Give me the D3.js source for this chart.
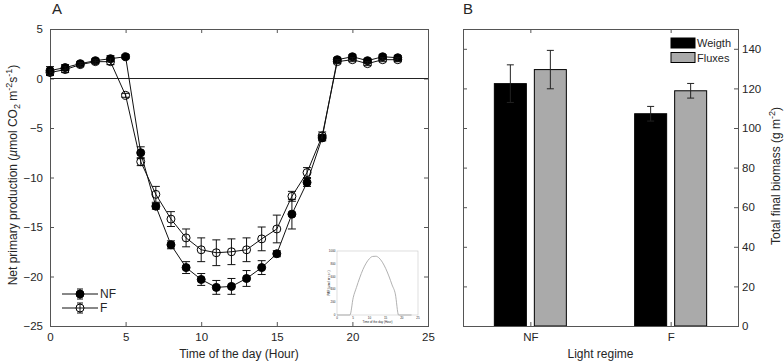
<!DOCTYPE html>
<html lang="en">
<head>
<meta charset="UTF-8">
<title>NPP and biomass</title>
<script src="https://cdn.jsdelivr.net/npm/d3@7"></script>
<style>
  body { margin: 0; background: #fff; }
  text { font-family: "Liberation Sans", Arial, sans-serif; fill: #262626; }
</style>
</head>
<body>
<script>
// panel A: net primary production over the day
const hours = [0, 1, 2, 3, 4, 5, 6, 7, 8, 9, 10, 11, 12, 13, 14, 15, 16, 17, 18, 19, 20, 21, 22, 23]
const nfMean = [0.8, 1.1, 1.5, 1.8, 2.0, 2.2, -7.5, -12.9, -16.8, -19.1, -20.3, -21.1, -21.0, -20.2, -19.1, -17.7, -13.7, -10.5, -6.0, 1.9, 2.2, 1.8, 2.2, 2.1]
const nfErr = [0.4, 0.3, 0.2, 0.2, 0.3, 0.2, 0.6, 0.3, 0.4, 0.6, 0.6, 0.7, 0.8, 0.8, 0.7, 0.3, 1.5, 0.4, 0.3, 0.2, 0.2, 0.2, 0.2, 0.2]
const fMean = [0.6, 0.9, 1.4, 1.7, 1.7, -1.7, -8.4, -11.7, -14.2, -16.1, -17.3, -17.6, -17.5, -17.3, -16.2, -15.2, -11.9, -9.5, -5.8, 1.7, 1.9, 1.5, 1.9, 1.9]
const fErr = [0.3, 0.3, 0.2, 0.2, 0.3, 0.2, 0.4, 0.8, 0.75, 0.9, 1.2, 1.3, 1.3, 1.2, 1.2, 1.4, 0.5, 0.5, 0.4, 0.2, 0.2, 0.2, 0.2, 0.2]
const xTicksA = [0, 5, 10, 15, 20, 25]
const yTicksA = [5, 0, -5, -10, -15, -20, -25]

// inset: PAR curve
const parHours = [0, 4, 5, 6, 7, 8, 9, 10, 11, 12, 13, 14, 15, 16, 17, 18, 19, 23]
const parVals = [0, 0, 270, 430, 580, 710, 810, 880, 915, 918, 890, 825, 730, 610, 470, 330, 0, 0]
const parXTicks = [0, 5, 10, 15, 20, 25]
const parYTicks = [0, 200, 400, 600, 800, 1000]

// panel B: final biomass
const regimes = ['NF', 'F']
const methods = ['Weigth', 'Fluxes']
const weigth = [122.4, 107.2]
const weigthErr = [9.5, 3.7]
const fluxes = [129.5, 118.8]
const fluxesErr = [9.7, 3.7]
const yTicksB = [0, 20, 40, 60, 80, 100, 120, 140]

const [width, height] = [784, 364]
const axisColor = '#555'
const svg = d3.select('body').append('svg')
    .attr('width', width)
    .attr('height', height)

const styleAxis = g => {
    g.select('.domain').remove()
    g.selectAll('line').attr('stroke', axisColor)
    g.selectAll('text').attr('font-size', 11.5).attr('fill', '#262626')
        .attr('font-family', '"Liberation Sans", Arial, sans-serif')
}

// ---------- panel A ----------
const xA = d3.scaleLinear([0, 25], [50, 428])
const yA = d3.scaleLinear([-25, 5], [326, 29])
const gA = svg.append('g')

gA.append('g').attr('transform', `translate(0,${yA(-25)})`)
    .call(d3.axisBottom(xA).tickValues(xTicksA).tickSize(-4).tickPadding(7).tickFormat(d3.format('d')))
    .call(styleAxis)
gA.append('g').attr('transform', `translate(0,${yA(5)})`)
    .call(d3.axisTop(xA).tickValues(xTicksA).tickSize(-4).tickFormat(''))
    .call(styleAxis)
gA.append('g').attr('transform', `translate(${xA(0)},0)`)
    .call(d3.axisLeft(yA).tickValues(yTicksA).tickSize(-4).tickPadding(7).tickFormat(d3.format('d')))
    .call(styleAxis)
gA.append('g').attr('transform', `translate(${xA(25)},0)`)
    .call(d3.axisRight(yA).tickValues(yTicksA).tickSize(-4).tickFormat(''))
    .call(styleAxis)
gA.append('rect')
    .attr('x', xA(0)).attr('y', yA(5))
    .attr('width', xA(25) - xA(0)).attr('height', yA(-25) - yA(5))
    .attr('fill', 'none').attr('stroke', axisColor)
    .attr('shape-rendering', 'crispEdges')
gA.append('line')
    .attr('x1', xA(0)).attr('x2', xA(25))
    .attr('y1', yA(0)).attr('y2', yA(0))
    .attr('stroke', '#222').attr('shape-rendering', 'crispEdges')

// inset
const ix = d3.scaleLinear([0, 25], [337, 418])
const iy = d3.scaleLinear([0, 1000], [315, 251])
const gI = svg.append('g')
gI.append('rect')
    .attr('x', ix(0)).attr('y', iy(1000))
    .attr('width', ix(25) - ix(0)).attr('height', iy(0) - iy(1000))
    .attr('fill', 'none').attr('stroke', '#c8c8c8').attr('stroke-width', 0.6)
gI.selectAll('text.ixt').data(parXTicks).enter().append('text')
    .attr('x', d => ix(d)).attr('y', iy(0) + 4)
    .attr('text-anchor', 'middle').attr('font-size', 3).attr('fill', '#999')
    .text(d => d)
gI.selectAll('text.iyt').data(parYTicks).enter().append('text')
    .attr('x', ix(0) - 1.5).attr('y', d => iy(d) + 1)
    .attr('text-anchor', 'end').attr('font-size', 3).attr('fill', '#999')
    .text(d => d)
gI.append('text')
    .attr('x', (ix(0) + ix(25)) / 2).attr('y', iy(0) + 8)
    .attr('text-anchor', 'middle').attr('font-size', 3).attr('fill', '#999')
    .text('Time of the day (Hour)')
gI.append('text')
    .attr('transform', `translate(${ix(0) - 7},${(iy(0) + iy(1000)) / 2}) rotate(-90)`)
    .attr('text-anchor', 'middle').attr('font-size', 3).attr('fill', '#999')
    .text('PAR (µmol m⁻² s⁻¹)')
gI.append('path')
    .datum(parHours.map((h, i) => [h, parVals[i]]))
    .attr('fill', 'none').attr('stroke', '#a8a8a8').attr('stroke-width', 0.9)
    .attr('d', d3.line().x(d => ix(d[0])).y(d => iy(d[1])).curve(d3.curveMonotoneX))

// series
const series = [
    {name: 'NF', mean: nfMean, err: nfErr, fill: '#000'},
    {name: 'F', mean: fMean, err: fErr, fill: 'none'}
]
const line = d3.line().x(d => xA(d[0])).y(d => yA(d[1]))
series.forEach(s => {
    const pts = hours.map((h, i) => [h, s.mean[i], s.err[i]])
    const g = gA.append('g')
    g.append('path').datum(pts)
        .attr('fill', 'none').attr('stroke', '#111').attr('stroke-width', 1)
        .attr('d', line)
    const eb = g.selectAll('g.eb').data(pts).enter().append('g')
    eb.append('line')
        .attr('x1', d => xA(d[0])).attr('x2', d => xA(d[0]))
        .attr('y1', d => yA(d[1] - d[2])).attr('y2', d => yA(d[1] + d[2]))
        .attr('stroke', '#111')
    eb.selectAll('line.cap').data(d => [[d[0], d[1] - d[2]], [d[0], d[1] + d[2]]]).enter()
        .append('line')
        .attr('x1', d => xA(d[0]) - 4).attr('x2', d => xA(d[0]) + 4)
        .attr('y1', d => yA(d[1])).attr('y2', d => yA(d[1]))
        .attr('stroke', '#111')
    g.selectAll('circle').data(pts).enter().append('circle')
        .attr('cx', d => xA(d[0])).attr('cy', d => yA(d[1]))
        .attr('r', 4)
        .attr('fill', s.fill).attr('stroke', '#000').attr('stroke-width', 1)
})

// legend A
const legA = gA.append('g')
series.forEach((s, i) => {
    const y = 294 + i * 14
    legA.append('line').attr('x1', 62).attr('x2', 98).attr('y1', y).attr('y2', y).attr('stroke', '#111')
    legA.append('line').attr('x1', 80).attr('x2', 80).attr('y1', y - 5).attr('y2', y + 5).attr('stroke', '#111')
    legA.append('line').attr('x1', 77).attr('x2', 83).attr('y1', y - 5).attr('y2', y - 5).attr('stroke', '#111')
    legA.append('line').attr('x1', 77).attr('x2', 83).attr('y1', y + 5).attr('y2', y + 5).attr('stroke', '#111')
    legA.append('circle').attr('cx', 80).attr('cy', y).attr('r', 4)
        .attr('fill', s.fill).attr('stroke', '#000')
    legA.append('text').attr('x', 100).attr('y', y + 4).attr('font-size', 12).text(s.name)
})

// labels A
gA.append('text').attr('x', 52).attr('y', 14).attr('font-size', 15).text('A')
gA.append('text')
    .attr('x', (xA(0) + xA(25)) / 2).attr('y', 358)
    .attr('text-anchor', 'middle').attr('font-size', 12)
    .text('Time of the day (Hour)')
const ylA = gA.append('text')
    .attr('transform', 'translate(17,175) rotate(-90)')
    .attr('text-anchor', 'middle').attr('font-size', 12)
ylA.append('tspan').text('Net primary production (')
ylA.append('tspan').attr('font-style', 'italic').text('µ')
ylA.append('tspan').text('mol CO')
ylA.append('tspan').attr('font-size', 9).attr('dy', 3).text('2')
ylA.append('tspan').attr('dy', -3).text(' m')
ylA.append('tspan').attr('font-size', 9).attr('dy', -5).text('-2')
ylA.append('tspan').attr('dy', 5).text('s')
ylA.append('tspan').attr('font-size', 9).attr('dy', -5).text('-1')
ylA.append('tspan').attr('dy', 5).text(')')

// ---------- panel B ----------
const xB = d3.scaleLinear([0.52, 2.48], [463, 738])
const yB = d3.scaleLinear([0, 150], [326, 29])
const inner = d3.scaleBand(methods, [-36, 36]).paddingInner(0.2)
const gB = svg.append('g')
const catPos = regimes.map((r, i) => i + 1)

gB.append('g').attr('transform', `translate(0,${yB(0)})`)
    .call(d3.axisBottom(xB).tickValues(catPos).tickSize(-4).tickPadding(7).tickFormat(d => regimes[d - 1]))
    .call(styleAxis)
gB.append('g').attr('transform', `translate(0,${yB(150)})`)
    .call(d3.axisTop(xB).tickValues(catPos).tickSize(-4).tickFormat(''))
    .call(styleAxis)
gB.append('g').attr('transform', `translate(${xB.range()[0]},0)`)
    .call(d3.axisLeft(yB).tickValues(yTicksB).tickSize(-4).tickFormat(''))
    .call(styleAxis)
gB.append('g').attr('transform', `translate(${xB.range()[1]},0)`)
    .call(d3.axisRight(yB).tickValues(yTicksB).tickSize(-4).tickPadding(4).tickFormat(d3.format('d')))
    .call(styleAxis)

const bars = []
regimes.forEach((r, i) => {
    bars.push({pos: catPos[i], m: 'Weigth', v: weigth[i], e: weigthErr[i], fill: '#000'})
    bars.push({pos: catPos[i], m: 'Fluxes', v: fluxes[i], e: fluxesErr[i], fill: '#aaaaaa'})
})
gB.selectAll('rect.bar').data(bars).enter().append('rect')
    .attr('class', 'bar')
    .attr('x', d => xB(d.pos) + inner(d.m))
    .attr('width', inner.bandwidth())
    .attr('y', d => yB(d.v))
    .attr('height', d => yB(0) - yB(d.v))
    .attr('fill', d => d.fill)
    .attr('stroke', '#000').attr('stroke-width', 1)
const ebB = gB.selectAll('g.eb').data(bars).enter().append('g')
const cx = d => xB(d.pos) + inner(d.m) + inner.bandwidth() / 2
ebB.append('line')
    .attr('x1', cx).attr('x2', cx)
    .attr('y1', d => yB(d.v - d.e)).attr('y2', d => yB(d.v + d.e))
    .attr('stroke', '#222')
ebB.append('line')
    .attr('x1', d => cx(d) - 3.5).attr('x2', d => cx(d) + 3.5)
    .attr('y1', d => yB(d.v + d.e)).attr('y2', d => yB(d.v + d.e))
    .attr('stroke', '#222')
ebB.append('line')
    .attr('x1', d => cx(d) - 3.5).attr('x2', d => cx(d) + 3.5)
    .attr('y1', d => yB(d.v - d.e)).attr('y2', d => yB(d.v - d.e))
    .attr('stroke', '#222')

gB.append('rect')
    .attr('x', xB.range()[0]).attr('y', yB(150))
    .attr('width', xB.range()[1] - xB.range()[0]).attr('height', yB(0) - yB(150))
    .attr('fill', 'none').attr('stroke', axisColor)
    .attr('shape-rendering', 'crispEdges')

// legend B
const legB = gB.append('g')
methods.forEach((m, i) => {
    const y = 38 + i * 14.5
    legB.append('rect').attr('x', 671).attr('y', y).attr('width', 24).attr('height', 10)
        .attr('fill', i === 0 ? '#000' : '#aaaaaa').attr('stroke', '#000')
    legB.append('text').attr('x', 697).attr('y', y + 9).attr('font-size', 11).text(m)
})

// labels B
gB.append('text').attr('x', 463).attr('y', 14).attr('font-size', 15).text('B')
gB.append('text')
    .attr('x', (xB.range()[0] + xB.range()[1]) / 2).attr('y', 358)
    .attr('text-anchor', 'middle').attr('font-size', 12)
    .text('Light regime')
const ylB = gB.append('text')
    .attr('transform', 'translate(780,176) rotate(-90)')
    .attr('text-anchor', 'middle').attr('font-size', 12)
ylB.append('tspan').text('Total final biomass (g m')
ylB.append('tspan').attr('font-size', 9).attr('dy', -5).text('-2')
ylB.append('tspan').attr('dy', 5).text(')')
</script>
</body>
</html>
